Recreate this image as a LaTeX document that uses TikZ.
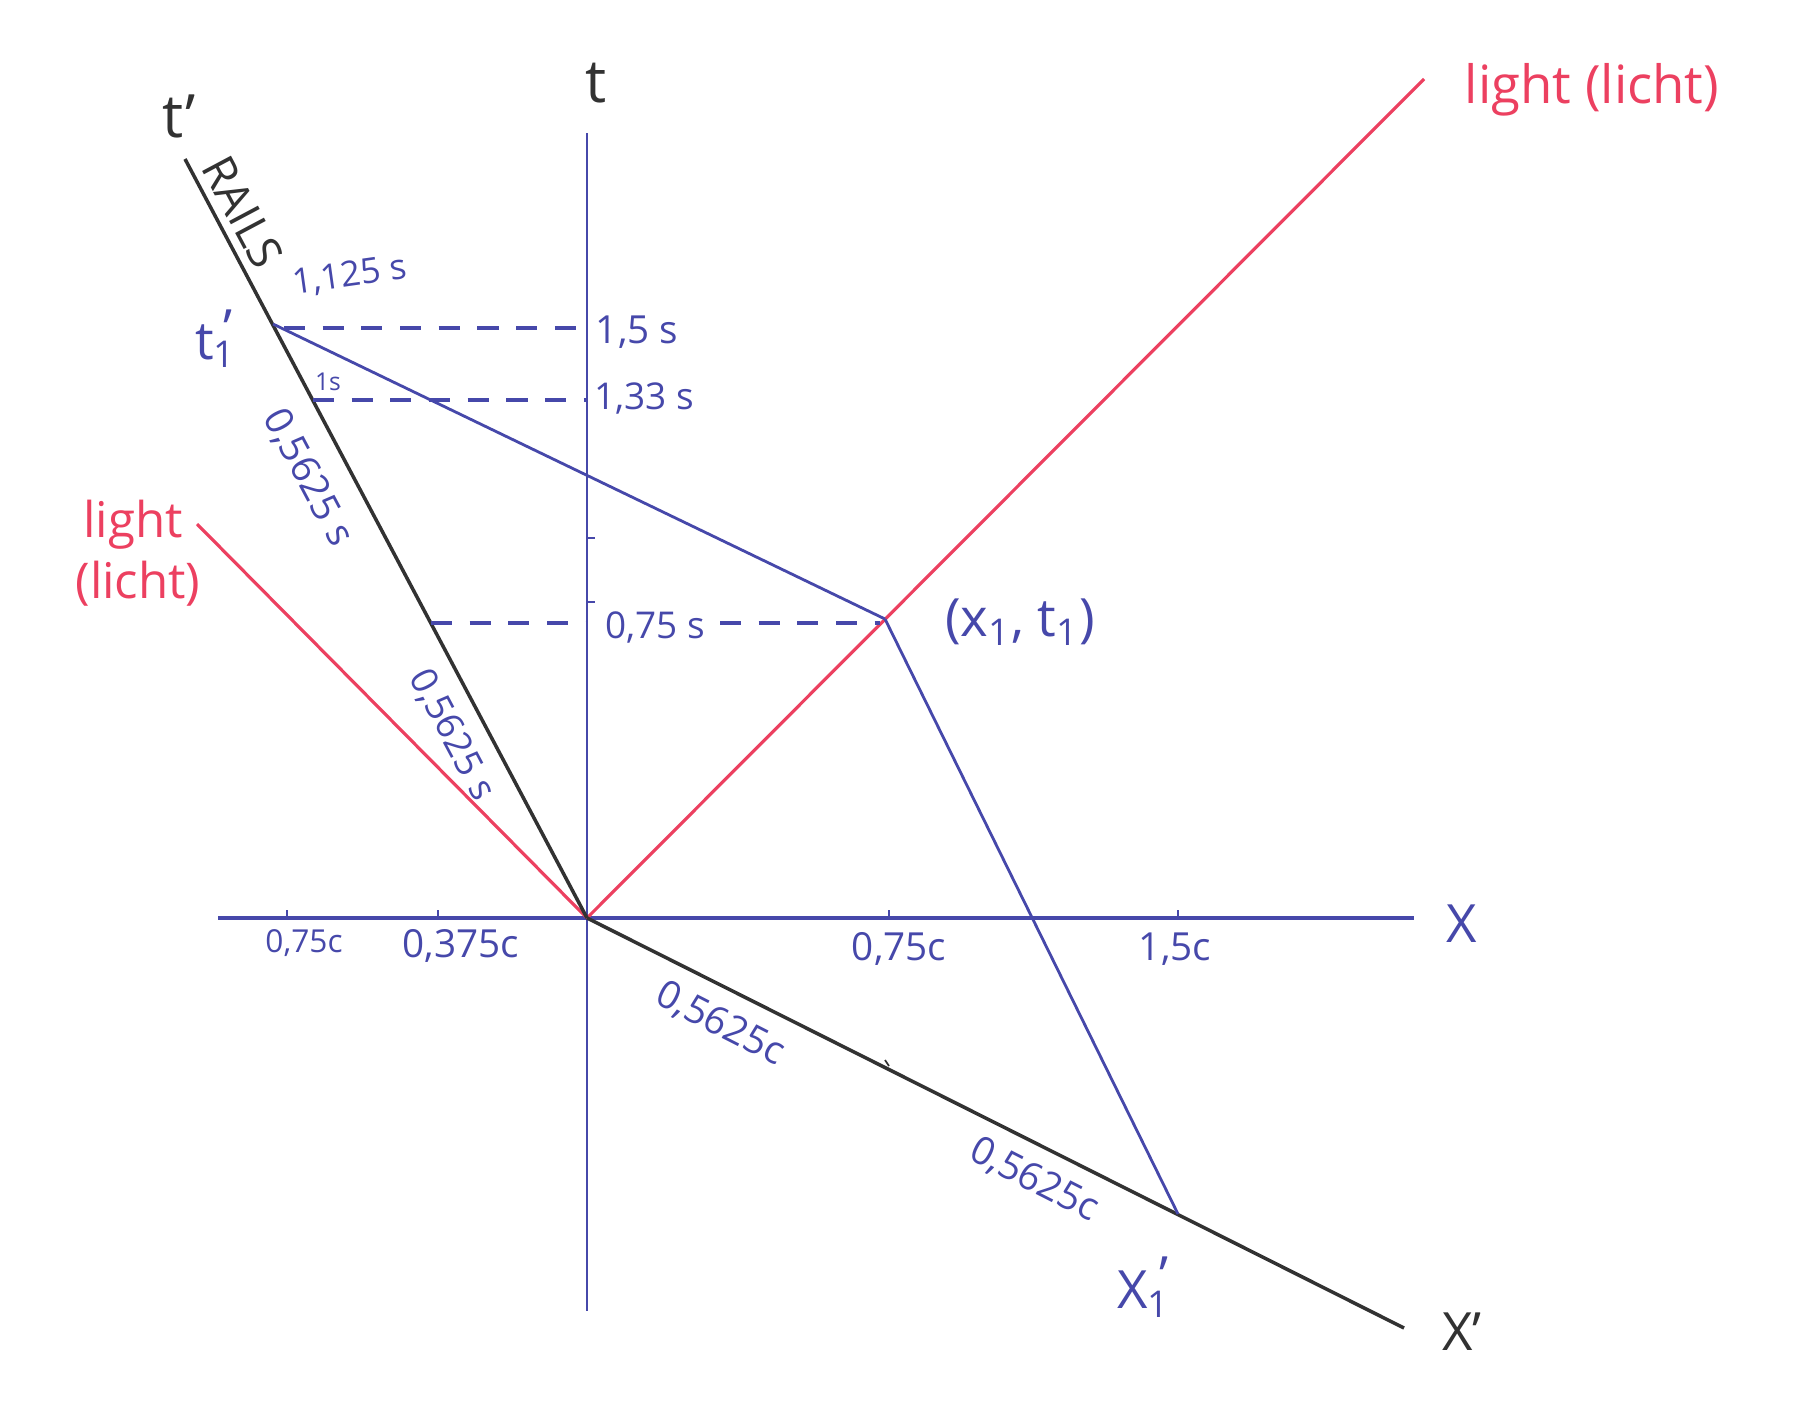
\documentclass[tikz,border=0pt]{standalone}
\usepackage{fontspec}
\setmainfont{Open Sans}
\definecolor{ink}{RGB}{70,72,170}
\definecolor{redink}{RGB}{236,64,96}
\definecolor{blk}{RGB}{50,50,50}
\tikzset{
  blueline/.style={draw=ink, line width=0.8pt},
  axisline/.style={draw=ink, line width=0.6pt},
  xaxisline/.style={draw=ink, line width=1.1pt},
  blackline/.style={draw=blk, line width=1pt},
  redline/.style={draw=redink, line width=0.9pt},
  dashline/.style={draw=ink, line width=0.9pt, dash pattern=on 6pt off 5pt},
  tickline/.style={draw=ink, line width=0.5pt},
  blab/.style={text=ink, inner sep=0pt},
  rlab/.style={text=redink, inner sep=0pt},
  klab/.style={text=blk, inner sep=0pt},
}
\begin{document}
\begin{tikzpicture}[x=0.01cm, y=-0.01cm]
\useasboundingbox (0,0) rectangle (1815,1415);
% key points
\coordinate (O) at (587,918);
\coordinate (ttop) at (587,133);
\coordinate (tbot) at (587,1311);
\coordinate (xleft) at (218,918);
\coordinate (xright) at (1414,918);
\coordinate (tpend) at (185,159);
\coordinate (xpend) at (1404,1328);
\coordinate (lightR) at (1424,79);
\coordinate (lightL) at (197,524);
\coordinate (T1p) at (273,324);
\coordinate (E) at (885,619);
\coordinate (X1p) at (1178,1214);
% dashed line ends
\coordinate (d1a) at (284,328);
\coordinate (d1b) at (587,328);
\coordinate (d2a) at (313,400);
\coordinate (d2b) at (587,400);
\coordinate (d3a) at (431,623);
\coordinate (d3b) at (587,623);
\coordinate (d3c) at (720,623);
\coordinate (d3d) at (880,623);

% axes
\draw[axisline] (ttop) -- (tbot);
\draw[xaxisline] (xleft) -- (xright);
% ticks
\foreach \xx in {287,438,889,1178} \draw[tickline] (\xx,910) -- (\xx,918);
\foreach \yy in {538,602} \draw[tickline] (587,\yy) -- (595,\yy);

% light lines
\draw[redline] (O) -- (lightR);
\draw[redline] (lightL) -- (O);

% primed axes
\draw[blackline] (tpend) -- (O);
\draw[blackline] (O) -- (xpend);
\draw[blk, line width=0.5pt] (885,1060) -- (889,1066);

% dashed projections
\draw[dashline] (d1a) -- (d1b);
\draw[dashline] (d2a) -- (d2b);
\draw[dashline] (d3a) -- (d3b);
\draw[dashline] (d3c) -- (d3d);

% blue lines to event
\draw[blueline] (T1p) -- (E);
\draw[blueline] (E) -- (X1p);

% labels
\node[klab, font=\fontsize{17}{20}\selectfont] (lt) at (596,83) {t};
\node[klab, font=\fontsize{17}{20}\selectfont] (ltp) at (179,116) {t'};
\node[klab, font=\fontsize{13}{15}\selectfont, rotate=-62] (lrails) at (243,212) {RAILS};
\node[blab, font=\fontsize{10}{12}\selectfont, rotate=8] (l1125) at (350,276) {1,125 s};
\node[blab, font=\fontsize{11}{13}\selectfont] (l15) at (637,332) {1,5 s};
\node[blab, font=\fontsize{10.5}{12}\selectfont] (l133) at (644,399) {1,33 s};
\node[blab, font=\fontsize{7}{8}\selectfont] (l1s) at (328,382) {1s};
\node[blab, font=\fontsize{15}{17}\selectfont] (lt1p) at (214,339) {t\textsubscript{1}\kern-0.25em\raisebox{0.4ex}{'}};
\node[blab, font=\fontsize{11}{13}\selectfont, rotate=-62] (ls1) at (308,478) {0,5625 s};
\node[blab, font=\fontsize{10.5}{12}\selectfont, rotate=-62] (ls2) at (452,735) {0,5625 s};
\node[blab, font=\fontsize{10.5}{12}\selectfont] (l075s) at (655,627) {0,75 s};
\node[blab, font=\fontsize{15}{17}\selectfont] (lev) at (1020,622) {(x\textsubscript{1}, t\textsubscript{1})};
\node[rlab, font=\fontsize{15}{17}\selectfont] (llr) at (1592,90) {light (licht)};
\node[rlab, font=\fontsize{14}{16}\selectfont] (lll1) at (133,525) {light};
\node[rlab, font=\fontsize{14}{16}\selectfont] (lll2) at (138,584) {(licht)};
\node[blab, font=\fontsize{15}{17}\selectfont] (lX) at (1462,924) {X};
\node[blab, font=\fontsize{9}{11}\selectfont] (lx1) at (304,943) {0,75c};
\node[blab, font=\fontsize{11}{13}\selectfont] (lx2) at (461,946) {0,375c};
\node[blab, font=\fontsize{11}{13}\selectfont] (lx3) at (899,949) {0,75c};
\node[blab, font=\fontsize{11}{13}\selectfont] (lx4) at (1175,949) {1,5c};
\node[blab, font=\fontsize{11}{13}\selectfont, rotate=-27] (lc1) at (720,1024) {0,5625c};
\node[blab, font=\fontsize{11}{13}\selectfont, rotate=-27] (lc2) at (1034,1180) {0,5625c};
\node[blab, font=\fontsize{15}{17}\selectfont] (lx1p) at (1143,1287) {X\textsubscript{1}\kern-0.2em\raisebox{0.5ex}{'}};
\node[klab, font=\fontsize{15}{17}\selectfont] (lxp) at (1462,1332) {X'};
\end{tikzpicture}
\end{document}
